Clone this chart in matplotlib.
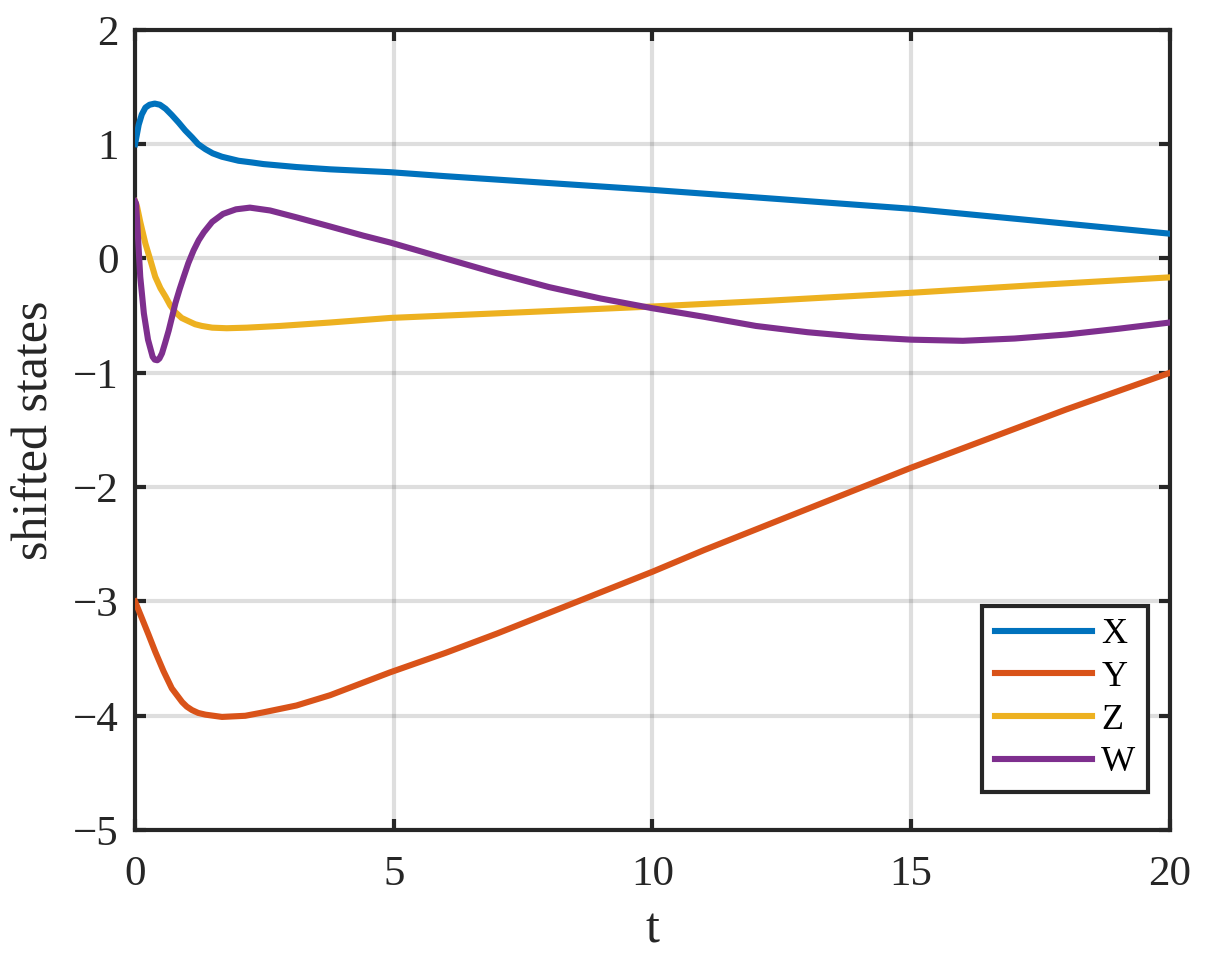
"""Shifted state trajectories, MATLAB-style line plot."""

import matplotlib

matplotlib.use("Agg")
import matplotlib.pyplot as plt

# time samples and values, per series
t_x = [0, 0.07, 0.13, 0.2, 0.28, 0.38, 0.48, 0.59, 0.71, 0.84, 0.97, 1.10, 1.22,
       1.36, 1.5, 1.68, 2.0, 2.26, 2.48, 3.12, 3.77, 4.93, 6, 7.5, 10, 12.44, 15,
       17.42, 20]
x_vals = [1.0, 1.17, 1.26, 1.32, 1.345, 1.355, 1.345, 1.31, 1.255, 1.19, 1.12, 1.06,
          1.0, 0.956, 0.92, 0.89, 0.855, 0.84, 0.826, 0.80, 0.78, 0.755, 0.72, 0.675,
          0.60, 0.52, 0.435, 0.33, 0.217]

t_y = [0, 0.135, 0.26, 0.39, 0.55, 0.71, 0.91, 1.0, 1.10, 1.22, 1.36, 1.68, 2.13,
       2.48, 3.12, 3.77, 4.93, 6, 7, 8, 9, 10, 11, 12, 13, 14, 15, 16, 17, 18, 19, 20]
y_vals = [-3.0, -3.15, -3.29, -3.44, -3.61, -3.76, -3.88, -3.92, -3.95, -3.975,
          -3.99, -4.01, -4.0, -3.97, -3.91, -3.82, -3.62, -3.45, -3.28, -3.10, -2.92,
          -2.74, -2.55, -2.37, -2.19, -2.01, -1.83, -1.66, -1.49, -1.32, -1.16, -1.0]

t_z = [0, 0.04, 0.1, 0.2, 0.3, 0.39, 0.49, 0.59, 0.68, 0.78, 0.9, 1.04, 1.16, 1.29,
       1.49, 1.77, 2.16, 2.80, 3.77, 4.93, 7.5, 10, 12.22, 15, 17.5, 20]
z_vals = [0.5, 0.45, 0.32, 0.13, -0.02, -0.16, -0.26, -0.335, -0.41, -0.47, -0.52,
          -0.55, -0.575, -0.59, -0.605, -0.61, -0.605, -0.59, -0.56, -0.52, -0.47,
          -0.42, -0.37, -0.30, -0.23, -0.165]

t_w = [0, 0.02, 0.06, 0.10, 0.17, 0.25, 0.34, 0.38, 0.43, 0.47, 0.52, 0.58, 0.65,
       0.71, 0.78, 0.86, 0.94, 1.03, 1.13, 1.23, 1.33, 1.49, 1.70, 1.95, 2.22, 2.61,
       3.12, 3.77, 4.41, 4.93, 6, 7, 8, 9, 10, 11, 12, 13, 14, 15, 16, 17, 18, 19, 20]
w_vals = [0.5, 0.48, 0.16, -0.16, -0.48, -0.71, -0.86, -0.885, -0.89, -0.875, -0.83,
          -0.74, -0.63, -0.52, -0.39, -0.27, -0.16, -0.04, 0.07, 0.16, 0.23, 0.32,
          0.39, 0.43, 0.445, 0.42, 0.36, 0.28, 0.20, 0.14, 0.0, -0.13, -0.25, -0.35,
          -0.435, -0.51, -0.59, -0.645, -0.685, -0.71, -0.72, -0.70, -0.665, -0.615,
          -0.56]

series = [
    ("X", t_x, x_vals, "#0072BD"),
    ("Y", t_y, y_vals, "#D95319"),
    ("Z", t_z, z_vals, "#EDB120"),
    ("W", t_w, w_vals, "#7E2F8E"),
]

plt.rcParams["font.family"] = ["Liberation Serif", "DejaVu Serif"]

figure = plt.figure(figsize=(12.06, 9.63), dpi=100)
axis = figure.add_axes([0.112, 0.138, 0.858, 0.831])

for label, t, values, color in series:
    axis.plot(t, values, color=color, linewidth=4.4, label=label,
              solid_joinstyle="round", zorder=3)

axis.set_xlim(0, 20)
axis.set_ylim(-5, 2)
axis.set_xticks([0, 5, 10, 15, 20])
axis.set_yticks(range(-5, 3))
axis.grid(True, color="#262626", alpha=0.15, linewidth=3)
axis.set_axisbelow(True)

for spine in axis.spines.values():
    spine.set_linewidth(3)
    spine.set_color("#262626")
axis.tick_params(direction="in", top=True, right=True, length=8, width=3,
                 color="#262626", labelsize=31, labelcolor="#262626")
axis.tick_params(axis="x", pad=18)
axis.tick_params(axis="y", pad=12)

axis.set_xlabel("t", fontsize=36, color="#262626", labelpad=10)
axis.set_ylabel("shifted states", fontsize=36, color="#262626", labelpad=10)

legend = axis.legend(loc="lower right", bbox_to_anchor=(0.979, 0.0475),
                     borderaxespad=0, fontsize=26, fancybox=False, framealpha=1,
                     handlelength=2.7, handletextpad=0.25, labelspacing=0.26,
                     borderpad=0.35)
legend.get_frame().set_edgecolor("#262626")
legend.get_frame().set_linewidth(3)

figure.savefig("out.png", dpi=100)
